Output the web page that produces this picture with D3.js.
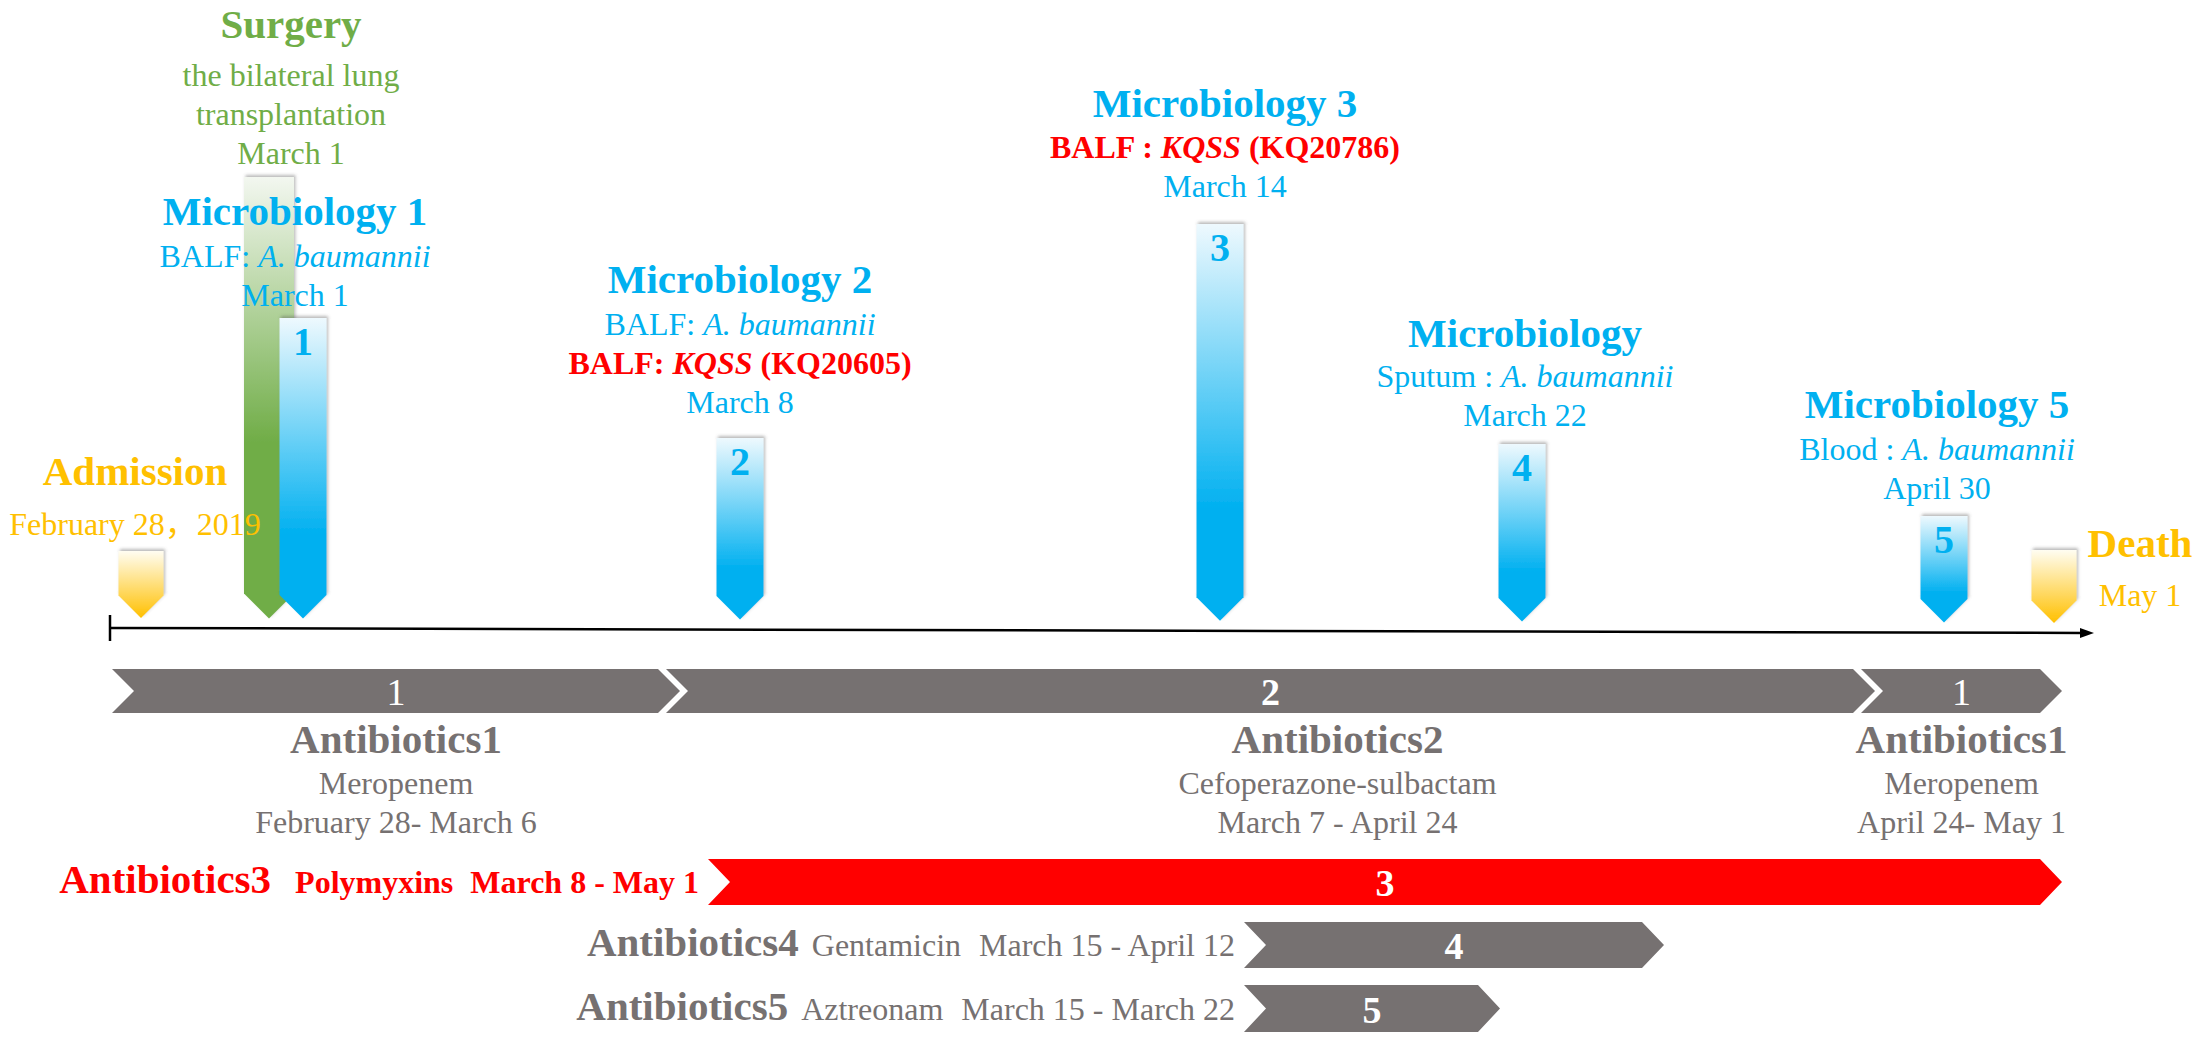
<!DOCTYPE html>
<html><head><meta charset="utf-8">
<script src="https://cdn.jsdelivr.net/npm/d3@7"></script>
<style>html,body{margin:0;padding:0;background:#fff;} svg{display:block;}</style>
</head><body>
<svg id="chart" width="2201" height="1040"></svg>
<script>
// ================= DATA =================
// day index: days since February 28 (Feb 28 = 0, Mar 1 = 1, Apr 1 = 32, May 1 = 62)
const eventNames   = ["Admission","Surgery","Microbiology 1","Microbiology 2","Microbiology 3","Microbiology","Microbiology 5","Death"];
const eventKinds   = ["yellow","green","blue","blue","blue","blue","blue","yellow"];
const eventDays    = [0, 1, 1, 8, 14, 22, 61, 62];
const eventNumbers = ["", "", "1", "2", "3", "4", "5", ""];
// "_..._" = italic (species / strain name), leading "!" = KQSS finding (highlighted)
const eventDetails = [
  ["February 28，2019"],
  ["the bilateral lung", "transplantation", "March 1"],
  ["BALF: _A. baumannii_", "March 1"],
  ["BALF: _A. baumannii_", "!BALF: _KQSS_ (KQ20605)", "March 8"],
  ["!BALF : _KQSS_ (KQ20786)", "March 14"],
  ["Sputum : _A. baumannii_", "March 22"],
  ["Blood : _A. baumannii_", "April 30"],
  ["May 1"]
];

const treatNames   = ["Antibiotics1","Antibiotics2","Antibiotics1","Antibiotics3","Antibiotics4","Antibiotics5"];
const treatNumbers = ["1","2","1","3","4","5"];
const treatDrugs   = ["Meropenem","Cefoperazone-sulbactam","Meropenem","Polymyxins","Gentamicin","Aztreonam"];
const treatDates   = ["February 28- March 6","March 7 - April 24","April 24- May 1","March 8 - May 1","March 15 - April 12","March 15 - March 22"];
const treatStart   = [0, 7, 55, 8, 15, 15];   // first day (inclusive)
const treatEnd     = [7, 55, 63, 63, 44, 23]; // day after last day
const treatRow     = [0, 0, 0, 1, 2, 3];
const treatKey     = [false, false, false, true, false, false]; // polymyxins highlighted

// ================= LAYOUT / STYLE =================
const W = 2201, H = 1040;
const FONT = "'Liberation Serif','Times New Roman',Times,'Noto Sans CJK SC',serif";
const COL = {blue:"#00b0f0", green:"#70ad47", yellow:"#ffc000", red:"#ff0000", grey:"#767171"};

// piecewise scales (the timeline is not drawn to a uniform day scale)
const markerX = d3.scaleLinear().domain([0.5, 1.5, 8.5, 14.5, 22.5, 61.5, 62.5])
                               .range([141, 286, 740, 1220, 1522, 1944, 2054]);
const barX = d3.scaleLinear().domain([0, 7, 8, 15, 23, 44, 55, 63])
                            .range([112, 662, 708, 1244, 1478, 1642, 1857, 2040]);

const axisX0 = 110, axisX1 = 2094;
const axisY = d3.scaleLinear().domain([axisX0, axisX1]).range([628, 633]);

const stemTop     = [551, 177, 318, 438, 224, 444, 516, 550];
const stemDX      = [0, -17, 17, 0, 0, 0, 0, 0];
const stemW       = {yellow:45, green:50, blue:47};
const labelDX     = [-6, 5, 9, 0, 5, 3, -7, 86];
const titleBase   = [485, 38, 225, 293, 117, 347, 418, 557];
const titleGap    = [50, 48, 42, 42, 41, 40, 42, 49];
const lineGap     = 39;

const rowTop = [669, 859, 922, 985];
const rowH   = [44, 46, 46, 47];
const P = 22; // chevron depth
const numWeight = ["normal","bold","normal","bold","bold","bold"];
const labelShift = [0, 67, 0, 0, 0, 0];

const svg = d3.select("#chart").attr("viewBox", `0 0 ${W} ${H}`);
svg.append("rect").attr("width", W).attr("height", H).attr("fill", "#fff");

// ---------- defs ----------
const defs = svg.append("defs");
function grad(id, stops) {
  const g = defs.append("linearGradient").attr("id", id).attr("x1", 0).attr("y1", 0).attr("x2", 0).attr("y2", 1);
  stops.forEach(([o, c]) => g.append("stop").attr("offset", o).attr("stop-color", c));
}
grad("g-blue",   [[0, "#eef9fe"], [0.72, COL.blue], [1, COL.blue]]);
grad("g-green",  [[0, "#f3f7f0"], [0.6, COL.green], [1, COL.green]]);
grad("g-yellow", [[0, "#fffdf2"], [1, COL.yellow]]);
const f = defs.append("filter").attr("id", "shadow").attr("x", "-30%").attr("y", "-10%").attr("width", "160%").attr("height", "120%");
f.append("feDropShadow").attr("dx", 1.5).attr("dy", -2).attr("stdDeviation", 1.6)
 .attr("flood-color", "#555").attr("flood-opacity", 0.4);

// ---------- axis ----------
const gAxis = svg.append("g");
gAxis.append("line").attr("x1", axisX0).attr("x2", axisX1 - 10)
  .attr("y1", axisY(axisX0)).attr("y2", axisY(axisX1 - 10))
  .attr("stroke", "#000").attr("stroke-width", 2.5);
gAxis.append("line").attr("x1", axisX0).attr("x2", axisX0)
  .attr("y1", axisY(axisX0) - 13).attr("y2", axisY(axisX0) + 13)
  .attr("stroke", "#000").attr("stroke-width", 2.5);
gAxis.append("path")
  .attr("d", `M${axisX1},${axisY(axisX1)} L${axisX1 - 14},${axisY(axisX1) - 5} L${axisX1 - 14},${axisY(axisX1) + 5} Z`)
  .attr("fill", "#000");

// ---------- rich text helper ----------
function richLine(sel, str, baseColor, forceBold) {
  let s = str, red = false;
  if (s.startsWith("!")) { red = true; s = s.slice(1); }
  const parts = s.split("_");
  parts.forEach((p, i) => {
    if (!p) return;
    sel.append("tspan").text(p)
      .attr("font-style", i % 2 === 1 ? "italic" : "normal")
      .attr("font-weight", (red || forceBold) ? "bold" : "normal");
  });
  sel.attr("fill", red ? COL.red : baseColor);
}

// ---------- events (stems + labels) ----------
const gEv = svg.append("g");
eventNames.forEach((name, i) => {
  const kind = eventKinds[i];
  const cx = markerX(eventDays[i] + 0.5) + stemDX[i];
  const w = stemW[kind], top = stemTop[i];
  const tip = axisY(cx) - 10;
  const d = `M${cx - w/2},${top} L${cx + w/2},${top} L${cx + w/2},${tip - w/2} L${cx},${tip} L${cx - w/2},${tip - w/2} Z`;
  gEv.append("path").attr("d", d).attr("fill", `url(#g-${kind})`).attr("filter", "url(#shadow)");
  if (eventNumbers[i]) {
    gEv.append("text").attr("x", cx).attr("y", top + 37).attr("text-anchor", "middle")
      .attr("font-family", FONT).attr("font-size", 40).attr("font-weight", "bold")
      .attr("fill", COL.blue).text(eventNumbers[i]);
  }
});
// labels drawn after all stems so they sit on top
eventNames.forEach((name, i) => {
  const kind = eventKinds[i];
  const color = COL[kind];
  const lx = markerX(eventDays[i] + 0.5) + labelDX[i];
  gEv.append("text").attr("x", lx).attr("y", titleBase[i]).attr("text-anchor", "middle")
    .attr("font-family", FONT).attr("font-size", 41).attr("font-weight", "bold")
    .attr("fill", color).text(name);
  eventDetails[i].forEach((ln, j) => {
    const t = gEv.append("text").attr("x", lx).attr("y", titleBase[i] + titleGap[i] + j * lineGap)
      .attr("text-anchor", "middle").attr("font-family", FONT).attr("font-size", 32);
    richLine(t, ln, color, false);
  });
});

// ---------- treatments ----------
const gTr = svg.append("g");
treatNames.forEach((name, i) => {
  const r = treatRow[i];
  const adjStart = treatNames.some((_, k) => k !== i && treatRow[k] === r && treatEnd[k] === treatStart[i]);
  const adjEnd   = treatNames.some((_, k) => k !== i && treatRow[k] === r && treatStart[k] === treatEnd[i]);
  const x0 = barX(treatStart[i]) + (adjStart ? 4 : 0);
  const x1 = barX(treatEnd[i]) - (adjEnd ? 4 : 0);
  const top = rowTop[r], h = rowH[r], mid = top + h / 2, bot = top + h;
  const color = treatKey[i] ? COL.red : COL.grey;
  gTr.append("path")
    .attr("d", `M${x0},${top} L${x1},${top} L${x1 + P},${mid} L${x1},${bot} L${x0},${bot} L${x0 + P},${mid} Z`)
    .attr("fill", color);
  const cx = (x0 + x1 + P) / 2;
  gTr.append("text").attr("x", cx).attr("y", mid + 14).attr("text-anchor", "middle")
    .attr("font-family", FONT).attr("font-size", 38).attr("font-weight", numWeight[i])
    .attr("fill", "#fff").text(treatNumbers[i]);

  if (r === 0) {
    const lx = cx + labelShift[i];
    gTr.append("text").attr("x", lx).attr("y", 753).attr("text-anchor", "middle")
      .attr("font-family", FONT).attr("font-size", 41).attr("font-weight", "bold").attr("fill", COL.grey).text(name);
    gTr.append("text").attr("x", lx).attr("y", 794).attr("text-anchor", "middle")
      .attr("font-family", FONT).attr("font-size", 32).attr("fill", COL.grey).text(treatDrugs[i]);
    gTr.append("text").attr("x", lx).attr("y", 833).attr("text-anchor", "middle")
      .attr("font-family", FONT).attr("font-size", 32).attr("fill", COL.grey).text(treatDates[i]);
  } else {
    const bold = treatKey[i];
    const gaps = bold ? [24, 17] : [13, 18];
    const t = gTr.append("text").attr("x", x0 - 9).attr("y", mid + 11).attr("text-anchor", "end")
      .attr("font-family", FONT).attr("fill", color);
    t.append("tspan").attr("font-size", 41).attr("font-weight", "bold").text(name);
    t.append("tspan").attr("dx", gaps[0]).attr("font-size", 32).attr("font-weight", bold ? "bold" : "normal").text(treatDrugs[i]);
    t.append("tspan").attr("dx", gaps[1]).attr("font-size", 32).attr("font-weight", bold ? "bold" : "normal").text(treatDates[i]);
  }
});
</script>
</body></html>
